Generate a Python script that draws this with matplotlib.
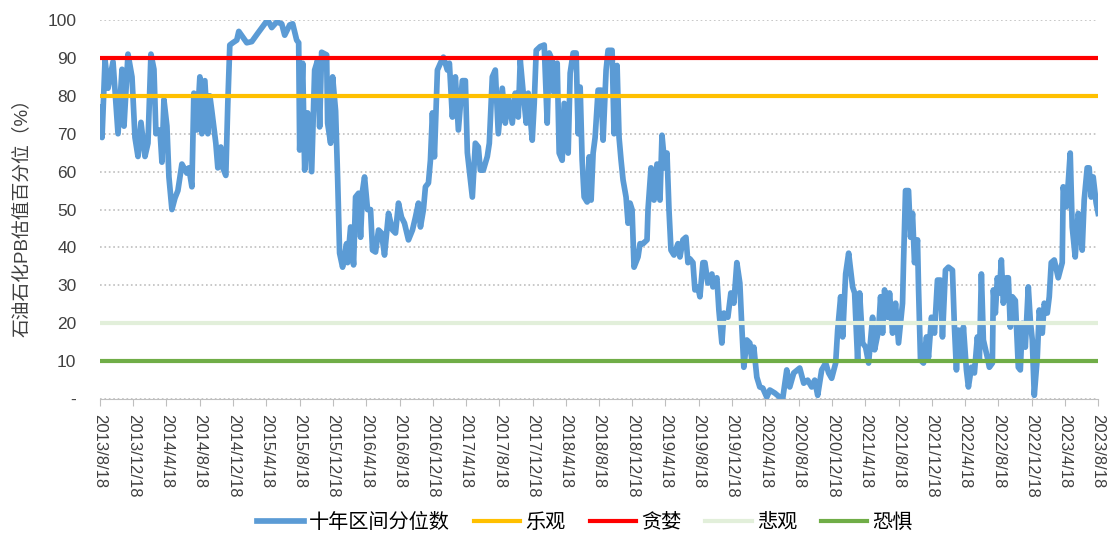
import numpy as np
import pandas as pd
import matplotlib
matplotlib.use('Agg')
import matplotlib.pyplot as plt

plt.rcParams['font.family'] = ['Liberation Sans', 'Noto Sans CJK SC', 'DejaVu Sans']

# years after 2013/8/18
t = [0.00, 0.02, 0.05, 0.08, 0.13, 0.18, 0.22, 0.24, 0.28, 0.32, 0.35, 0.38, 0.41, 0.45, 0.48,
     0.51, 0.54, 0.56, 0.60, 0.62, 0.64, 0.67, 0.69, 0.72, 0.75, 0.78, 0.82, 0.87, 0.89, 0.92,
     0.94, 0.97, 1.00, 1.02, 1.05, 1.08, 1.10, 1.12, 1.16, 1.18, 1.21, 1.23, 1.26, 1.28, 1.30,
     1.33, 1.37, 1.39, 1.43, 1.47, 1.52, 1.58, 1.65, 1.68, 1.72, 1.77, 1.82, 1.85, 1.90, 1.93,
     1.97, 1.99, 2.00, 2.03, 2.05, 2.08, 2.12, 2.15, 2.18, 2.20, 2.22, 2.27, 2.28, 2.31, 2.33,
     2.36, 2.38, 2.40, 2.43, 2.47, 2.48, 2.51, 2.54, 2.56, 2.59, 2.61, 2.63, 2.65, 2.68, 2.71,
     2.73, 2.76, 2.79, 2.82, 2.85, 2.89, 2.93, 2.96, 2.99, 3.02, 3.05, 3.09, 3.13, 3.16, 3.19,
     3.21, 3.24, 3.26, 3.29, 3.31, 3.33, 3.35, 3.38, 3.41, 3.44, 3.48, 3.50, 3.53, 3.56, 3.59,
     3.63, 3.66, 3.68, 3.70, 3.73, 3.76, 3.79, 3.81, 3.84, 3.88, 3.90, 3.93, 3.96, 3.99, 4.03,
     4.06, 4.09, 4.13, 4.16, 4.19, 4.21, 4.24, 4.27, 4.29, 4.33, 4.35, 4.37, 4.41, 4.45, 4.48,
     4.50, 4.53, 4.55, 4.58, 4.60, 4.63, 4.65, 4.69, 4.71, 4.74, 4.77, 4.79, 4.81, 4.83, 4.85,
     4.88, 4.90, 4.92, 4.94, 4.96, 4.99, 5.02, 5.04, 5.07, 5.09, 5.13, 5.15, 5.18, 5.20, 5.22,
     5.24, 5.27, 5.29, 5.31, 5.33, 5.35, 5.39, 5.41, 5.44, 5.48, 5.49, 5.52, 5.55, 5.58, 5.61,
     5.63, 5.66, 5.68, 5.70, 5.72, 5.75, 5.79, 5.81, 5.84, 5.87, 5.89, 5.91, 5.94, 5.96, 5.99,
     6.01, 6.04, 6.06, 6.09, 6.13, 6.14, 6.18, 6.20, 6.23, 6.25, 6.29, 6.32, 6.35, 6.38, 6.41,
     6.43, 6.45, 6.48, 6.51, 6.53, 6.55, 6.58, 6.61, 6.64, 6.68, 6.71, 6.76, 6.81, 6.84, 6.88,
     6.91, 6.95, 7.01, 7.05, 7.09, 7.13, 7.16, 7.19, 7.23, 7.27, 7.30, 7.33, 7.37, 7.39, 7.42,
     7.44, 7.47, 7.50, 7.54, 7.56, 7.59, 7.61, 7.64, 7.67, 7.70, 7.74, 7.76, 7.80, 7.82, 7.84,
     7.86, 7.89, 7.91, 7.94, 7.97, 8.00, 8.04, 8.05, 8.07, 8.10, 8.12, 8.14, 8.16, 8.19, 8.20,
     8.22, 8.25, 8.28, 8.30, 8.33, 8.36, 8.39, 8.42, 8.44, 8.47, 8.50, 8.54, 8.56, 8.58, 8.60,
     8.63, 8.65, 8.68, 8.70, 8.73, 8.76, 8.79, 8.81, 8.83, 8.85, 8.89, 8.91, 8.94, 8.95, 8.97,
     8.99, 9.01, 9.03, 9.05, 9.08, 9.10, 9.12, 9.14, 9.17, 9.20, 9.22, 9.24, 9.27, 9.30, 9.32,
     9.34, 9.36, 9.39, 9.41, 9.44, 9.46, 9.49, 9.51, 9.53, 9.56, 9.60, 9.64, 9.65, 9.68, 9.70,
     9.72, 9.74, 9.77, 9.80, 9.82, 9.84, 9.86, 9.89, 9.91, 9.93, 9.95, 9.98, 10.00]

pct = [77, 69, 89.5, 82, 89, 70, 87, 72, 91, 85, 69, 64, 73, 64, 67.5,
       91, 87, 70, 71, 62.5, 79, 72, 58.6, 50, 53, 55, 62, 59.6, 61, 56,
       80.7, 71, 85, 70, 84, 70, 80, 76, 67.5, 61, 66.5, 61, 59, 78, 93.4,
       94, 94.7, 97, 95.5, 94, 94.3, 96.5, 99, 100, 98, 99.5, 99, 96, 98.7, 99,
       94.7, 94, 65.7, 88.6, 60.4, 75.5, 60, 86.8, 89.4, 71.8, 91.5, 90.8, 72.8, 67.5, 85,
       76, 58.6, 38.5, 34.8, 41, 36, 45.4, 35.4, 53.3, 54.3, 42.7, 55, 58.6, 50, 50,
       39.3, 38.8, 44.6, 43.8, 38, 49, 44.6, 43.8, 51.7, 48, 46.4, 42, 44.6, 48, 51.7,
       45.4, 50, 56, 57, 63, 75.5, 63.9, 86.8, 88.6, 90.2, 86.8, 88.6, 74.4, 85, 71,
       84, 84, 65, 60.4, 53.3, 67.5, 66.5, 60.4, 60.4, 64, 67.5, 85, 86.8, 70, 82,
       72.8, 79.7, 72.8, 80.7, 74.4, 89.4, 80.7, 72.8, 80.7, 68.3, 78, 92, 93, 93.4, 72.8,
       91.3, 89.4, 80.7, 88.6, 64.9, 63, 78, 64.9, 86, 91.3, 91.3, 70, 82.3, 63, 53.3,
       52, 63.9, 52.5, 64.9, 69, 81.5, 81.5, 68.3, 86.8, 92, 92, 70, 88, 69, 63,
       57.8, 53.3, 46.4, 51.7, 50, 34.8, 37.5, 41, 41, 42, 50, 61, 52.5, 62, 52.5,
       69.6, 61, 64.9, 50, 39.3, 38, 41, 37.5, 42, 42.7, 36, 37, 36, 28.8, 29.6,
       27, 36, 36, 30.6, 33, 29.6, 32, 23.5, 14.8, 22.7, 21.6, 28, 25.3, 36, 30.6,
       19, 8.4, 15.6, 14.8, 10.3, 13.7, 5.8, 3.2, 2.9, 0.5, 2.4, 1.6, 0.5, 0.2, 7.7,
       3.2, 6.9, 8.2, 4.2, 5, 3.2, 5, 1, 7.7, 9.5, 6.9, 5.5, 9.5, 18.2, 27,
       16.4, 33, 38.5, 29.6, 28, 10.3, 28, 14.8, 13.7, 9.5, 21.6, 13, 18.2, 27, 17.4,
       28.8, 21.6, 28, 17.4, 25.3, 14.8, 25.3, 36, 55, 55, 42.7, 49, 36, 42, 29.6,
       10.3, 9.5, 16.4, 11, 21.6, 17.4, 31.4, 31.4, 16.4, 34, 34.8, 34, 19, 7.7, 18.2,
       10.3, 19, 7.7, 3.2, 8.4, 6.9, 16.4, 10.3, 33, 15.6, 11, 8.4, 9.5, 28.8, 22.7,
       32, 28, 36.7, 25.3, 32, 32, 19, 27, 26, 8.4, 7.7, 20, 13.7, 29.6, 20.8,
       15.6, 1, 11, 23.5, 17.4, 25.3, 22.7, 27, 36, 36.7, 32, 36, 56, 50.7, 57,
       64.9, 45.4, 37.5, 49, 46.4, 39.3, 52.5, 61, 61, 53.3, 58.6, 51.7, 49]

levels = [80, 90, 20, 10]
level_names = ['乐观', '贪婪', '悲观', '恐惧']
level_colors = ['#FFC000', '#FF0000', '#E2EFDA', '#70AD47']

start = pd.Timestamp('2013-08-18')
dates = start + pd.to_timedelta(np.array(t) * 365.25, unit='D')
ticks = pd.date_range('2013-08-18', periods=31, freq=pd.DateOffset(months=4))
tick_labels = ['%d/%d/%d' % (d.year, d.month, d.day) for d in ticks]

fig = plt.figure(figsize=(11.08, 5.35), dpi=100)
ax = fig.add_axes([0.0903, 0.254, 0.9007, 0.7086])

ax.plot(dates, pct, color='#5B9BD5', lw=4.1, label='十年区间分位数', solid_joinstyle='round')
for lv, nm, c in zip(levels, level_names, level_colors):
    ax.axhline(lv, color=c, lw=3, label=nm)

ax.set_ylim(0, 100)
ax.set_xlim(ticks[0], ticks[-1])
ax.set_yticks(np.arange(0, 101, 10))
ax.set_yticklabels(['-'] + [str(v) for v in range(10, 101, 10)], fontsize=12.5, color='#404040')
ax.set_xticks(ticks)
ax.set_xticklabels(tick_labels, rotation=270, fontsize=12, color='#404040')
ax.yaxis.grid(True, ls=':', color='#BFBFBF', lw=1.2)
ax.set_axisbelow(True)
for s in ['top', 'right', 'left']:
    ax.spines[s].set_visible(False)
ax.spines['bottom'].set_color('#BFBFBF')
ax.tick_params(axis='y', length=0, pad=17)
ax.tick_params(axis='x', length=5, color='#BFBFBF', pad=6)
ax.set_ylabel('石油石化PB估值百分位（%）', fontsize=13.5, color='#404040')
ax.yaxis.set_label_coords(-0.069, 0.49)

h, l = ax.get_legend_handles_labels()
fig.legend(h, l, loc='center', bbox_to_anchor=(0.528, 0.024), ncol=5, frameon=False,
           fontsize=14.5, handlelength=2.3, columnspacing=1.2, handletextpad=0.25)

fig.savefig('out.png', dpi=100)
